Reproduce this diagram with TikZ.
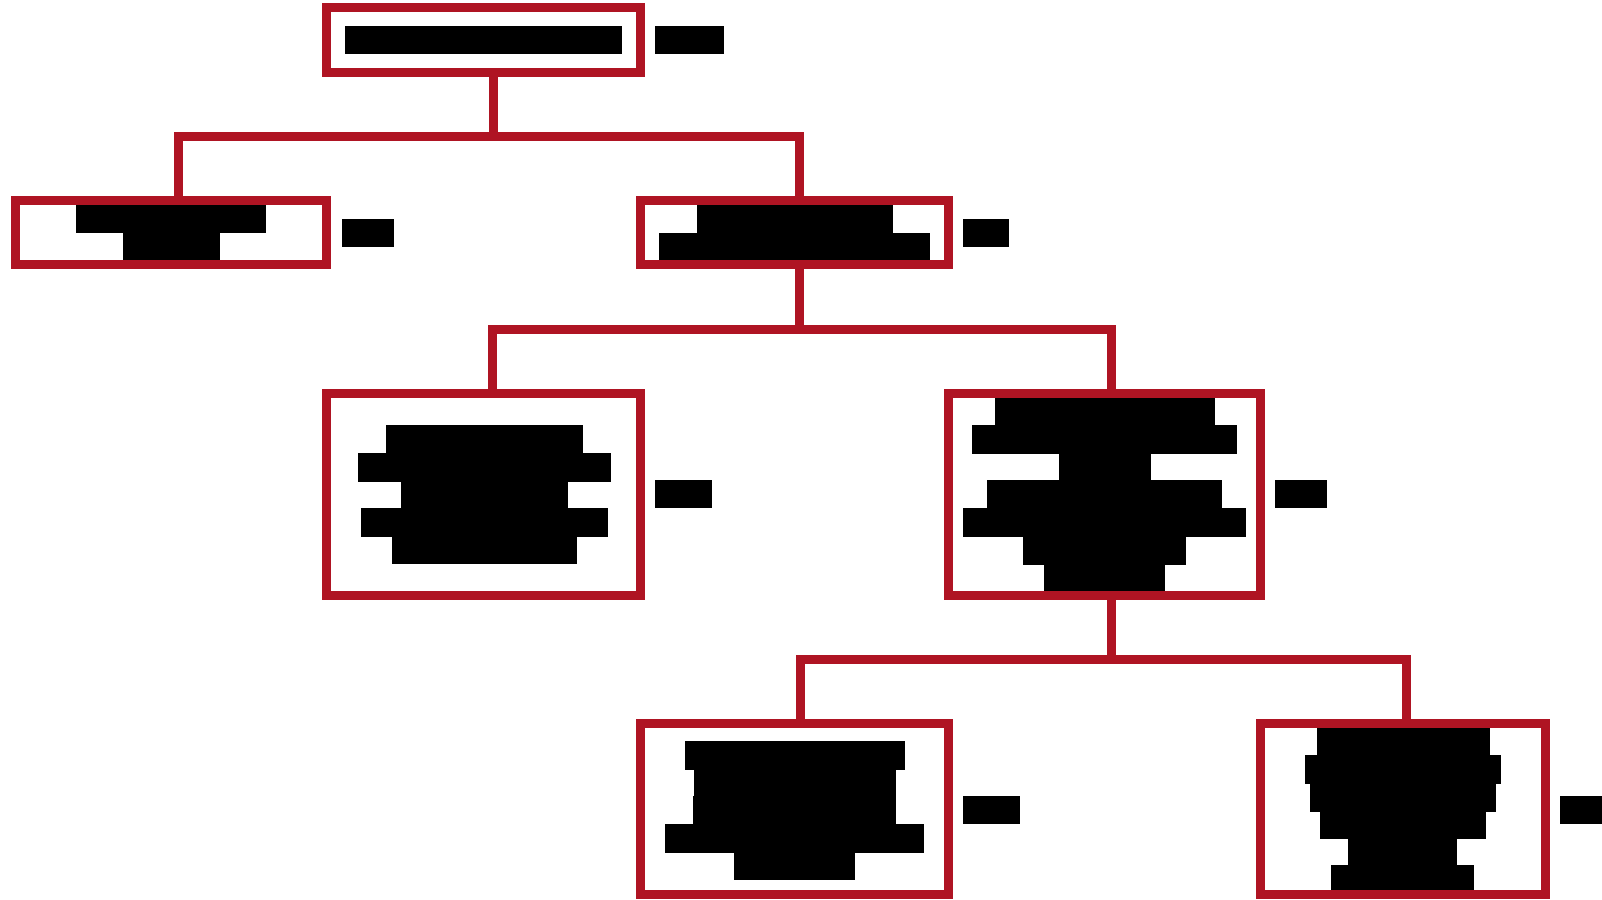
\documentclass[tikz,border=0pt]{standalone}
\definecolor{boxred}{RGB}{175,20,35}
\begin{document}
\begin{tikzpicture}[x=1pt,y=-1pt,
  box/.style={draw=boxred,line width=9pt,rectangle,inner sep=0pt,outer sep=0pt,line join=miter},
  link/.style={draw=boxred,line width=9pt,line join=miter},
  bar/.style={fill=black}]
\useasboundingbox (0,0) rectangle (1602,899);
% redacted text bars
\fill[bar] (345,26) rectangle (622,54);
\fill[bar] (655,26) rectangle (724,54);
% box 2
\fill[bar] (76,205) rectangle (266,233);
\fill[bar] (123,232.5) rectangle (220,260);
\fill[bar] (342,219) rectangle (394,247);
% box 3
\fill[bar] (697,205) rectangle (893,233);
\fill[bar] (659,232.5) rectangle (930,260);
\fill[bar] (963,219) rectangle (1009,247);
% box 4
\fill[bar] (386,425) rectangle (583,453.5);
\fill[bar] (358,453) rectangle (611,481.5);
\fill[bar] (401,481) rectangle (568,508.5);
\fill[bar] (361,508) rectangle (608,536.5);
\fill[bar] (392,536) rectangle (577,564);
\fill[bar] (655,480) rectangle (712,508);
% box 5
\fill[bar] (995,397) rectangle (1215,425.5);
\fill[bar] (972,425) rectangle (1237,453.5);
\fill[bar] (1059,453) rectangle (1151,480.5);
\fill[bar] (987,480) rectangle (1222,508.5);
\fill[bar] (963,508) rectangle (1246,536.5);
\fill[bar] (1023,536) rectangle (1186,564.5);
\fill[bar] (1044,564) rectangle (1165,591);
\fill[bar] (1275,480) rectangle (1327,508);
% box 6
\fill[bar] (685,741) rectangle (905,769.5);
\fill[bar] (694,769) rectangle (896,796.5);
\fill[bar] (693,796) rectangle (896,824.5);
\fill[bar] (665,824) rectangle (924,852.5);
\fill[bar] (734,852) rectangle (855,880);
\fill[bar] (963,796) rectangle (1020,824);
% box 7
\fill[bar] (1317,728) rectangle (1490,755.5);
\fill[bar] (1305,755) rectangle (1501,783.5);
\fill[bar] (1310,783) rectangle (1496,811.5);
\fill[bar] (1320,811) rectangle (1486,838.5);
\fill[bar] (1348,838) rectangle (1457,865.5);
\fill[bar] (1331,865) rectangle (1474,893);
\fill[bar] (1560,796) rectangle (1602,824);
% boxes
\node[box,minimum width=313.5pt,minimum height=64.5pt] (root) at (483.25,40) {};
\node[box,minimum width=311pt,minimum height=64pt] (b2) at (171,232.5) {};
\node[box,minimum width=308pt,minimum height=64pt] (b3) at (794.5,232.5) {};
\node[box,minimum width=314pt,minimum height=202pt] (b4) at (483.5,494.5) {};
\node[box,minimum width=312pt,minimum height=202pt] (b5) at (1104.5,494.5) {};
\node[box,minimum width=308pt,minimum height=171pt] (b6) at (794.5,809) {};
\node[box,minimum width=285pt,minimum height=171pt] (b7) at (1403,809) {};
% junctions
\coordinate (j1) at (493.5,136.5);
\coordinate (j2) at (799,329.5);
\coordinate (j3) at (1111.5,659.5);
% connectors
\draw[link] (j1 |- root.south) -- (j1);
\draw[link] ([xshift=7.5pt]b2.north) |- (j1) -| ([xshift=5pt]b3.north);
\draw[link] (j2 |- b3.south) -- (j2);
\draw[link] ([xshift=8.5pt]b4.north) |- (j2) -| ([xshift=7pt]b5.north);
\draw[link] (j3 |- b5.south) -- (j3);
\draw[link] ([xshift=6pt]b6.north) |- (j3) -| ([xshift=3.5pt]b7.north);
\end{tikzpicture}
\end{document}
